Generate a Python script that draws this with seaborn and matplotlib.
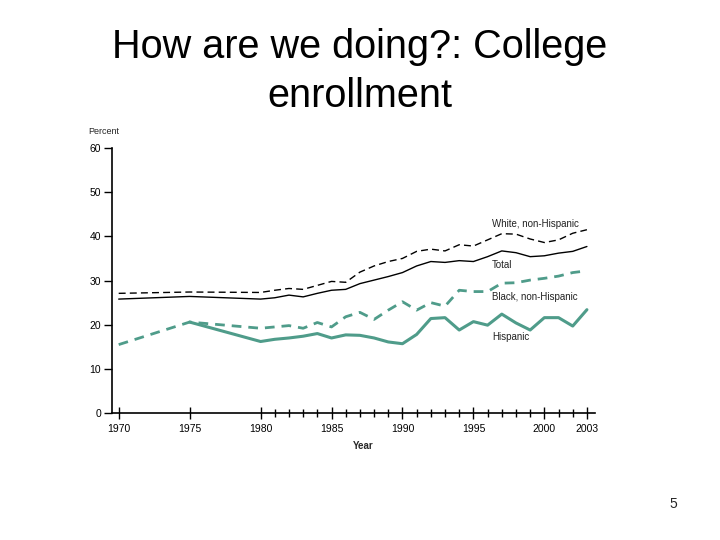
"""
College enrollment rates by race/ethnicity, 1970-2003
"""

import numpy as np
import pandas as pd
import matplotlib
matplotlib.use("Agg")
import matplotlib.pyplot as plt
import seaborn as sns

years = [1970, 1975] + list(range(1980, 2004))

white = [27.1, 27.4, 27.3, 27.8, 28.2, 28.0, 28.9, 29.8, 29.6, 31.9,
         33.3, 34.3, 35.0, 36.6, 37.1, 36.7, 38.1, 37.8, 39.2, 40.6,
         40.5, 39.4, 38.6, 39.2, 40.7, 41.5]
total = [25.8, 26.4, 25.8, 26.1, 26.7, 26.3, 27.1, 27.8, 28.0, 29.3,
         30.1, 30.9, 31.8, 33.3, 34.3, 34.1, 34.5, 34.3, 35.4, 36.7,
         36.3, 35.4, 35.6, 36.2, 36.6, 37.7]
black = [15.5, 20.6, 19.2, 19.5, 19.8, 19.2, 20.5, 19.5, 21.8, 22.8,
         21.2, 23.3, 25.2, 23.3, 25.0, 24.2, 27.8, 27.5, 27.5, 29.4,
         29.5, 30.1, 30.5, 31.0, 31.8, 32.2]
hispanic = [np.nan, 20.6, 16.2, 16.7, 17.0, 17.4, 18.0, 17.0, 17.7, 17.6,
            17.0, 16.1, 15.7, 17.8, 21.4, 21.6, 18.8, 20.7, 19.9, 22.4,
            20.4, 18.8, 21.6, 21.6, 19.7, 23.4]

series = {
    "White, non-Hispanic": white,
    "Total": total,
    "Black, non-Hispanic": black,
    "Hispanic": hispanic,
}

sns.set_style("white")
plt.rcParams['font.family'] = ['Liberation Sans', 'DejaVu Sans']

teal = "#4f9c8a"
styles = {
    "White, non-Hispanic": dict(color="black", lw=1.0, dashes=(5, 3)),
    "Total": dict(color="black", lw=1.0, dashes=None),
    "Black, non-Hispanic": dict(color=teal, lw=2.0, dashes=(3.5, 2.5)),
    "Hispanic": dict(color=teal, lw=2.2, dashes=None),
}

fig = plt.figure(figsize=(7.2, 5.4), dpi=100)
ax = fig.add_axes([0.155, 0.235, 0.671, 0.491])

for name, vals in series.items():
    df = pd.DataFrame({"year": years, "pct": vals}).dropna()
    st = styles[name]
    sns.lineplot(x="year", y="pct", data=df, ax=ax,
                 color=st["color"], linewidth=st["lw"])
    if st["dashes"]:
        ax.lines[-1].set_dashes(st["dashes"])

label_pos = {
    "White, non-Hispanic": 42.8,
    "Total": 33.5,
    "Black, non-Hispanic": 26.3,
    "Hispanic": 17.2,
}
for name, y in label_pos.items():
    ax.text(1996.3, y, name, fontsize=7, color="#222222", va="center")

ax.set_xlim(1969.5, 2003.55)
ax.set_ylim(0, 60)
ax.set_yticks(range(0, 61, 10))
ax.set_xticks([1970, 1975, 1980, 1985, 1990, 1995, 2000, 2003])
ax.set_xticks(list(range(1981, 2003)), minor=True)
ax.tick_params(axis="x", which="both", bottom=True)
ax.tick_params(axis="y", which="major", left=True)
ax.tick_params(axis="x", which="major", direction="inout", length=9,
               width=1, labelsize=7.5, pad=3, colors="black")
ax.tick_params(axis="x", which="minor", direction="inout", length=6,
               width=1, color="black")
ax.tick_params(axis="y", direction="out", length=6, width=1, labelsize=7.5,
               pad=1.5, colors="black")
for s in ["top", "right"]:
    ax.spines[s].set_visible(False)
for s in ["left", "bottom"]:
    ax.spines[s].set_color("black")
    ax.spines[s].set_linewidth(1.2)
ax.set_xlabel("")
ax.set_ylabel("")

fig.text(0.122, 0.757, "Percent", fontsize=6.5, va="center")
fig.text(0.505, 0.174, "Year", fontsize=7, ha="center", va="center",
         fontweight="bold")

fig.text(0.5, 0.913, "How are we doing?: College", fontsize=28.5,
         ha="center", va="center", color="black")
fig.text(0.5, 0.822, "enrollment", fontsize=28.5, ha="center", va="center",
         color="black")
fig.text(0.935, 0.066, "5", fontsize=10, ha="center", va="center")

fig.savefig("out.png", dpi=100)
